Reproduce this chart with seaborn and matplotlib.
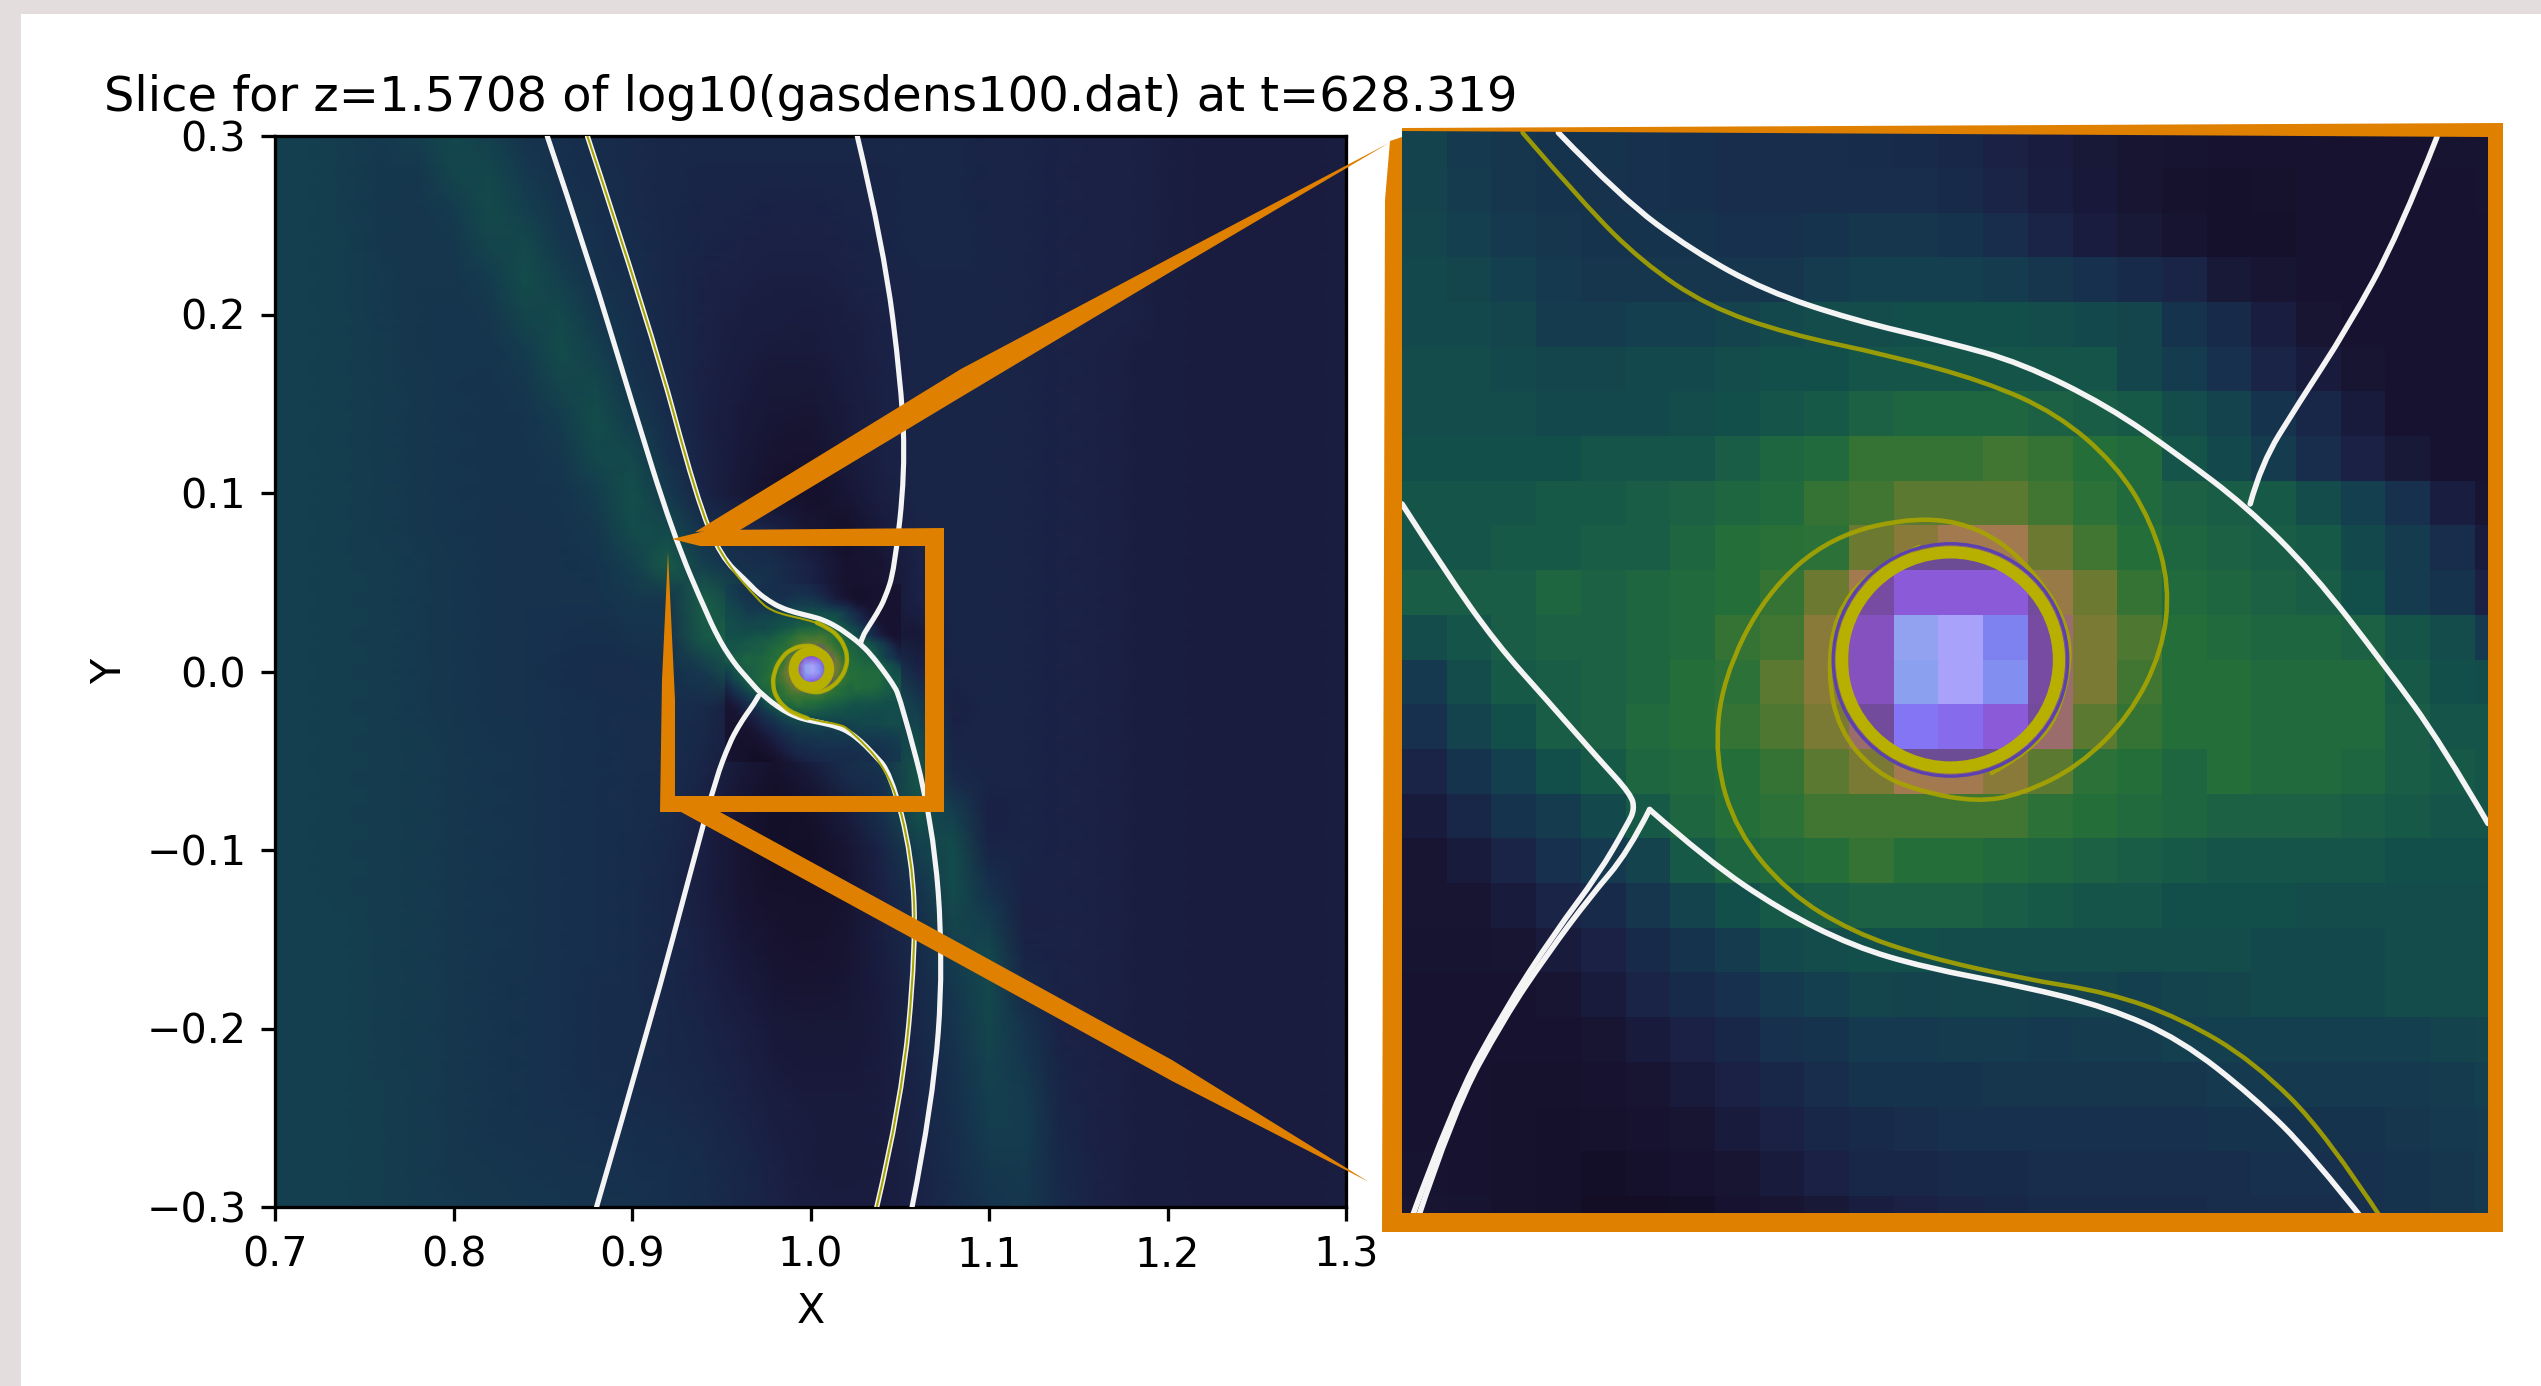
import numpy as np
import matplotlib
matplotlib.use("Agg")
import matplotlib.pyplot as plt
import seaborn as sns
from matplotlib.colors import LinearSegmentedColormap
from matplotlib.patches import Circle, PathPatch, Polygon, Rectangle
from matplotlib.path import Path
from matplotlib.transforms import Affine2D

W, H = 2541, 1386
DPI = 296

# log density (nodes every 0.02, y from 0.3 down to -0.3)
wide_field = [
    [38,38,36,34,38,44,38,30,28,26,24,22,22,22,22,22,22,22,22,22,20,20,19,18,18,17,15,15,15,15,16],
    [38,38,36,33,33,42,43,34,28,26,24,22,21,21,21,21,21,21,22,22,20,20,19,18,18,17,15,15,15,15,16],
    [38,38,36,33,32,36,45,38,30,27,24,22,20,20,19,19,20,21,22,22,20,20,19,18,18,17,15,15,15,15,16],
    [38,38,37,33,32,33,42,44,33,28,25,22,20,19,18,18,19,20,22,22,21,20,19,18,18,17,15,15,15,15,16],
    [38,38,37,34,32,32,36,46,38,29,26,22,19,18,17,17,18,20,21,21,21,20,19,18,18,16,15,15,15,15,16],
    [38,38,37,34,32,31,33,42,44,33,27,22,19,17,16,15,17,19,21,21,21,20,19,18,18,16,15,15,15,15,16],
    [38,38,37,35,32,31,31,36,46,38,28,23,19,16,14,14,16,19,21,21,21,20,19,18,17,16,15,15,15,15,16],
    [38,38,37,35,33,31,30,33,42,44,30,24,18,15,12,12,15,18,21,21,21,20,19,18,17,16,15,15,15,15,16],
    [38,38,37,35,33,31,30,31,36,47,36,25,18,14,11,10,14,18,21,21,21,20,19,18,17,16,15,15,15,15,16],
    [38,38,37,35,33,31,30,30,33,44,44,28,19,13,9,8,13,18,21,21,21,20,19,18,17,16,15,15,15,15,16],
    [38,38,37,35,33,31,30,30,31,37,48,34,20,12,7,6,11,17,21,21,21,20,19,18,17,16,15,15,15,15,16],
    [38,38,37,35,33,31,30,29,30,33,46,44,28,24,18,10,6,14,20,21,21,20,19,18,17,16,15,15,15,15,16],
    [38,38,37,36,34,32,30,29,29,31,38,52,38,28,26,18,8,10,19,21,21,20,19,18,17,16,15,15,15,15,16],
    [38,38,37,36,34,32,30,29,29,29,33,32,54,42,28,20,8,10,19,21,21,20,19,18,17,16,15,15,15,15,16],
    [38,38,37,36,34,32,30,29,28,27,29,30,52,56,54,48,28,14,12,21,21,20,19,18,17,16,15,15,15,15,16],
    [38,38,37,36,34,32,30,29,27,26,26,27,34,50,62,74,60,40,20,20,21,20,19,18,17,16,15,15,15,15,16],
    [38,38,37,36,34,32,30,29,28,27,26,27,24,16,52,60,58,50,36,18,21,20,19,18,17,16,15,15,15,15,16],
    [38,38,37,36,35,33,31,30,28,27,26,26,22,16,8,22,28,36,46,20,20,20,19,18,17,16,15,15,15,15,16],
    [38,38,37,36,35,33,31,30,28,27,26,25,20,12,6,12,24,28,50,24,20,20,19,18,17,16,15,15,15,15,16],
    [38,38,37,36,35,33,31,30,28,27,26,24,18,10,5,7,14,28,48,38,18,20,19,18,17,16,15,15,15,15,16],
    [38,38,37,36,35,33,31,30,28,27,25,23,17,10,5,5,10,20,38,46,20,20,19,18,17,16,15,15,15,15,16],
    [38,38,37,36,35,33,31,30,28,27,25,22,16,10,6,6,9,18,30,46,28,19,19,18,17,16,15,15,15,15,16],
    [38,38,38,36,35,33,31,30,28,27,25,22,17,11,8,7,9,17,26,42,36,18,19,18,17,16,15,15,15,15,16],
    [38,38,38,36,35,33,31,30,28,27,25,22,18,13,9,8,10,16,24,36,44,20,19,18,17,16,15,15,15,15,16],
    [38,38,38,36,35,33,31,29,28,26,25,22,19,15,11,10,11,15,23,32,44,24,19,18,17,16,15,15,15,15,16],
    [38,38,38,36,35,33,31,29,28,26,25,23,20,17,13,12,12,15,22,30,42,30,19,18,17,16,15,15,15,15,16],
    [38,38,38,36,35,33,31,29,28,26,25,23,21,18,14,13,13,15,21,28,40,33,20,18,17,16,15,15,15,15,16],
    [38,38,38,37,35,33,31,29,28,27,25,24,22,19,16,14,14,15,20,27,38,36,21,18,17,16,15,15,15,15,16],
    [38,38,38,37,35,33,31,30,29,28,27,26,24,21,17,15,14,15,20,26,36,36,22,18,17,16,15,15,15,15,16],
    [38,38,38,37,35,33,32,31,30,29,28,27,25,22,18,15,14,15,19,25,33,34,23,19,17,16,15,15,15,15,16],
    [38,38,38,37,35,34,33,32,31,30,29,27,25,22,19,16,15,15,19,24,30,33,24,19,17,16,15,15,15,15,16],
]

# the same quantity in the zoomed view, one value per simulation cell
zoom_field = [
    [40,34,32,30,30,28,27,26,26,26,25,24,22,18,15,12,10,9,8,8,8,8,8,9,9],
    [40,36,32,30,29,28,27,26,26,26,26,26,24,20,16,13,10,7,6,7,8,8,8,8,9],
    [42,38,34,32,30,30,30,28,28,30,32,32,30,26,20,15,12,9,6,6,8,8,8,8,8],
    [44,42,38,34,32,32,32,32,32,36,38,38,38,36,32,28,24,20,12,10,8,8,8,8,8],
    [44,44,42,36,36,38,38,40,44,46,46,48,48,48,46,44,42,30,24,16,10,8,8,8,8],
    [46,46,44,42,42,44,44,46,48,48,50,50,50,50,50,50,42,36,28,20,14,10,8,8,8],
    [46,46,46,44,44,44,46,48,50,52,56,58,58,58,56,54,52,46,40,30,22,14,8,8,8],
    [48,48,48,48,50,50,50,54,58,60,66,66,66,68,66,62,60,50,44,36,26,18,12,8,8],
    [50,50,50,52,52,54,56,58,60,66,68,72,72,72,68,64,60,56,54,52,46,38,28,16,10],
    [50,50,52,52,54,54,58,62,63,64,74,78,82,82,74,68,62,58,56,54,52,44,36,26,14],
    [54,54,54,58,56,58,60,62,66,74,82,84,84,84,80,74,66,60,58,56,54,48,36,30,18],
    [46,50,54,56,56,58,60,66,68,78,84,84,84,84,84,76,70,62,60,58,58,56,50,46,34],
    [34,46,52,54,56,58,62,64,72,78,84,84,84,84,84,76,68,62,62,60,60,60,52,48,46],
    [28,40,48,54,56,60,62,66,70,76,84,84,84,84,84,72,66,62,62,60,60,60,54,50,50],
    [20,30,38,48,52,58,60,62,66,72,76,82,82,78,72,64,62,58,62,60,60,58,54,52,50],
    [14,22,30,36,44,52,58,62,64,68,68,68,68,68,64,62,60,58,56,56,56,54,52,50,50],
    [10,14,20,28,34,40,52,58,60,62,66,62,62,60,58,56,54,52,50,50,50,50,48,48,48],
    [10,10,14,20,24,32,40,48,52,54,56,56,56,54,52,50,50,48,48,48,46,46,46,46,46],
    [9,9,10,14,18,24,30,36,44,46,48,48,46,46,46,46,46,46,46,44,44,44,46,46,46],
    [8,8,8,10,14,20,24,28,34,38,42,40,42,42,40,40,38,40,42,44,44,44,46,46,46],
    [8,8,8,8,10,14,18,22,28,30,34,34,36,36,34,36,36,38,38,38,38,38,38,40,42],
    [8,8,7,7,8,10,14,18,22,26,30,30,30,32,32,32,32,32,34,34,34,34,34,36,38],
    [8,8,7,6,7,8,10,14,18,22,24,26,28,28,28,28,28,28,30,30,30,30,32,34,36],
    [9,8,7,6,5,6,8,10,14,18,22,22,24,24,26,26,26,26,26,28,28,28,30,32,34],
    [10,9,7,6,4,4,5,8,10,12,16,18,20,22,24,24,24,24,26,26,26,28,30,32,34],
]

# cells inside the yellow ring (rows 9-14, columns 10-14)
core_field = [
    [np.nan,85,85,85,np.nan],
    [87,90,90,90,86],
    [89,98,100,95,87],
    [89,97,100,96,87],
    [86,93,92,90,86],
    [np.nan,85,85,85,np.nan],
]

x_ticks = [0.7, 0.8, 0.9, 1.0, 1.1, 1.2, 1.3]
y_ticks = [-0.3, -0.2, -0.1, 0.0, 0.1, 0.2, 0.3]
title = "Slice for z=1.5708 of log10(gasdens100.dat) at t=628.319"

# contour lines near the planet
w1_x = [.9644,.9701,.9768,.9835,.9915,1.0003,1.0070,1.0150,1.0217,1.0277,1.0338,1.0405,1.0458,1.0500]
w1_y = [.0504,.0444,.0394,.0357,.0330,.0309,.0290,.0250,.0203,.0157,.0096,.0009,-.0065,-.0138]
w2_x = [1.0453,1.0418,1.0371,1.0324,1.0291,1.0281]
w2_y = [.0500,.0410,.0323,.0250,.0196,.0159]
w3_x = [.9500,.9540,.9587,.9634,.9681,.9711,.9714,.9708,.9681,.9641,.9594,.9547,.9507]
w3_y = [.0159,.0096,.0029,-.0024,-.0078,-.0111,-.0125,-.0138,-.0185,-.0239,-.0312,-.0399,-.0510]
w3b_x = [.9728,.9708,.9674,.9634,.9594,.9547,.9513]
w3b_y = [-.0125,-.0165,-.0205,-.0259,-.0319,-.0406,-.0510]
w4_x = [.9728,.9781,.9848,.9915,.9982,1.0070,1.0150,1.0217,1.0284,1.0338,1.0388]
w4_y = [-.0125,-.0172,-.0218,-.0252,-.0272,-.0289,-.0309,-.0339,-.0392,-.0446,-.0510]
o1_x = [.9611,.9668,.9721,.9781,.9855,.9949,1.0036,1.0103,1.0157,1.0190,1.0207,1.0200,1.0170,1.0123,1.0070,1.0029,.9976,.9936,.9902,.9892,.9899,.9929,.9976]
o1_y = [.0504,.0437,.0384,.0343,.0317,.0297,.0273,.0243,.0196,.0143,.0083,.0022,-.0038,-.0085,-.0111,-.0118,-.0108,-.0091,-.0051,.0002,.0056,.0096,.0119]
o2_x = [1.0405,1.0351,1.0284,1.0217,1.0150,1.0070,.9982,.9915,.9855,.9808,.9788,.9795,.9835,.9895,.9976,1.0036,1.0083,1.0116,1.0113,1.0090,1.0043]
o2_y = [-.0510,-.0426,-.0359,-.0319,-.0295,-.0282,-.0262,-.0239,-.0202,-.0145,-.0078,-.0004,.0076,.0129,.0148,.0136,.0096,.0042,-.0011,-.0065,-.0091]

# the parts of those contours further out, wide view only
top_a_x = [.8525,.876,.8997,.923,.943]
top_a_y = [.3000,.230,.1515,.0768,.0296]
bottom_a_x = [1.045,1.057,1.059,1.051,1.037]
bottom_a_y = [-.0568,-.104,-.155,-.2415,-.3005]
top_b_x = [.875,.911,.9364,.9500]
top_b_y = [.3000,.1907,.0962,.0640]
bottom_b_x = [1.0686,1.0745,1.0686,1.0568]
bottom_b_y = [-.0844,-.163,-.2415,-.3005]
top_c_x = [1.0262,1.041,1.051,1.053,1.047]
top_c_y = [.3000,.238,.159,.112,.057]
bottom_d_x = [.880,.911,.935,.947]
bottom_d_y = [-.3005,-.194,-.104,-.060]

planet_x, planet_y = 1.0005, 0.0014
ring_r, halo_r, core_r = 0.0100, 0.0108, 0.0098

density_cmap = LinearSegmentedColormap.from_list(
    "density",
    [
        (0.00, "#0f0b1e"), (0.08, "#17122f"), (0.18, "#1a2145"), (0.28, "#16304d"),
        (0.38, "#143f4e"), (0.48, "#134f4a"), (0.55, "#1a5f45"), (0.62, "#246e3a"),
        (0.68, "#3e7632"), (0.74, "#6a7a30"), (0.78, "#8a7a3a"), (0.84, "#b07a5a"),
        (0.85, "#6a4c94"), (0.88, "#7e4aa8"), (0.90, "#8a58d6"), (0.93, "#8474f4"),
        (0.95, "#7c7cf0"), (0.97, "#88a0f0"), (0.98, "#92a2f0"), (1.00, "#a8a2fa"),
    ],
)
ORANGE = "#e08000"
WHITE = "#f4f4f4"
OLIVE = "#a8a400"
RING = "#b8b000"
HALO = "#5a40b0"


def px_axes(fig, left, top, right, bottom, **kw):
    return fig.add_axes([left / W, 1 - bottom / H, (right - left) / W, (bottom - top) / H], **kw)


def smooth_line(ax, xs, ys, color, lw, zorder=3, alpha=1):
    # quadratic segments through the midpoints, so the read points stay the only input
    pts = np.column_stack([xs, ys])
    verts = [pts[0]]
    codes = [Path.MOVETO]
    for i in range(1, len(pts) - 1):
        end = pts[-1] if i == len(pts) - 2 else (pts[i] + pts[i + 1]) / 2
        verts += [pts[i], end]
        codes += [Path.CURVE3, Path.CURVE3]
    ax.add_patch(PathPatch(Path(verts, codes), fill=False, ec=color, lw=lw, zorder=zorder,
                           alpha=alpha, capstyle="round"))


wide = np.array(wide_field, dtype=float)
zoom = np.array(zoom_field, dtype=float)
core = np.full(zoom.shape, np.nan)
core[9:15, 10:15] = core_field

fig = plt.figure(figsize=(W / DPI, H / DPI), facecolor="#e3dedd")
px = Affine2D().scale(1 / W, -1 / H).translate(0, 1) + fig.transFigure
fig.add_artist(Rectangle((21, 14), W, H, transform=px, fc="white", ec="none", zorder=-1))

# wide view: smooth field, with the finer cells laid over the middle
AX_L, AX_T, AX_R, AX_B = 275, 136, 1346, 1207
ax_wide = px_axes(fig, AX_L, AX_T, AX_R, AX_B)
sns.heatmap(wide, ax=ax_wide, cmap=density_cmap, vmin=0, vmax=100, cbar=False,
            xticklabels=False, yticklabels=False, shading="gouraud")
ax_wide.set_xlim(0, wide.shape[1] - 1)
ax_wide.set_ylim(wide.shape[0] - 1, 0)
ax_wide.set_axis_off()

ZL, ZT, ZR, ZB = 1402, 130, 2488, 1213
CELL = 44.7
cw = 0.1 / (ZR - ZL) * CELL
rh = 0.1 / (1213 - 137) * CELL
to_x = lambda v: AX_L + (v - 0.7) / 0.6 * (AX_R - AX_L)
to_y = lambda v: AX_T + (0.3 - v) / 0.6 * (AX_B - AX_T)
ax_mid = px_axes(fig, to_x(0.95 + 0.5 * cw), to_y(0.05 - 0.19 * rh),
                 to_x(0.95 + 24.5 * cw), to_y(0.05 - 24.19 * rh))
sns.heatmap(np.where(np.isnan(core), zoom, core), ax=ax_mid, cmap=density_cmap, vmin=0, vmax=100,
            cbar=False, xticklabels=False, yticklabels=False, shading="gouraud")
ax_mid.set_xlim(0, zoom.shape[1] - 1)
ax_mid.set_ylim(zoom.shape[0] - 1, 0)
ax_mid.set_axis_off()

ax = px_axes(fig, AX_L, AX_T, AX_R, AX_B, facecolor="none")
ax.set_xlim(0.7, 1.3)
ax.set_ylim(-0.3, 0.3)
ax.set_xticks(x_ticks)
ax.set_yticks(y_ticks)
ax.set_xlabel("X")
ax.set_ylabel("Y")
ax.set_title(title, fontsize=11.7)

a_x = top_a_x + w3_x[:6] + w4_x[:-1] + bottom_a_x
a_y = top_a_y + w3_y[:6] + w4_y[:-1] + bottom_a_y
b_x = top_b_x + w1_x + bottom_b_x
b_y = top_b_y + w1_y + bottom_b_y
smooth_line(ax, a_x, a_y, WHITE, 1.25)
smooth_line(ax, b_x, b_y, WHITE, 1.25)
smooth_line(ax, top_c_x + w2_x[1:], top_c_y + w2_y[1:], WHITE, 1.25)
smooth_line(ax, bottom_d_x + w3_x[11:6:-1], bottom_d_y + w3_y[11:6:-1], WHITE, 1.25)
smooth_line(ax, top_b_x + o1_x[2:], top_b_y + o1_y[2:], OLIVE, 0.5)
smooth_line(ax, bottom_a_x[::-1] + o2_x[3:], bottom_a_y[::-1] + o2_y[3:], OLIVE, 0.5)
smooth_line(ax, o1_x[6:], o1_y[6:], RING, 1.1, alpha=0.85)
smooth_line(ax, o2_x[6:], o2_y[6:], RING, 1.1, alpha=0.85)
ax.add_patch(Circle((planet_x, planet_y), ring_r, fill=False, ec=RING, lw=2.4, zorder=4))

# zoomed view: the simulation cells as they are
ax_cells = px_axes(fig, ZL, ZT, ZR, ZB)
sns.heatmap(zoom, ax=ax_cells, cmap=density_cmap, vmin=0, vmax=100, cbar=False,
            xticklabels=False, yticklabels=False)
sns.heatmap(core, ax=ax_cells, cmap=density_cmap, vmin=0, vmax=100, cbar=False,
            xticklabels=False, yticklabels=False)
ax_cells.set_xlim(0, (ZR - ZL) / CELL)
ax_cells.set_ylim(0.31 + (1213 - 137) / CELL, 0.31 - 7 / CELL)
ax_cells.set_axis_off()

ax_zoom = px_axes(fig, ZL, ZT, ZR, ZB, facecolor="none")
ax_zoom.set_xlim(0.95, 1.05)
ax_zoom.set_ylim(-0.05, 0.05 + 7 * 0.1 / 1076)
ax_zoom.set_axis_off()
ax_cells.collections[-1].set_clip_path(
    Circle((planet_x, planet_y), core_r + 0.0008, transform=ax_zoom.transData))

for xs, ys in [(w1_x, w1_y), (w2_x, w2_y), (w3_x, w3_y), (w3b_x, w3b_y), (w4_x, w4_y)]:
    smooth_line(ax_zoom, xs, ys, WHITE, 1.35)
smooth_line(ax_zoom, o1_x, o1_y, OLIVE, 1.1, alpha=0.9)
smooth_line(ax_zoom, o2_x, o2_y, OLIVE, 1.1, alpha=0.9)
ax_zoom.add_patch(Circle((planet_x, planet_y), halo_r, fill=False, ec=HALO, lw=0.8, zorder=4))
ax_zoom.add_patch(Circle((planet_x, planet_y), ring_r, fill=False, ec=RING, lw=3.0, zorder=5))

# hand-drawn orange callout, in picture pixels
callout = [
    [(672, 539), (709, 530), (944, 528), (944, 812), (660, 812), (662, 680), (668, 552),
     (675, 700), (675, 796), (925, 796), (925, 546), (700, 546)],
    [(695, 532), (961, 369), (1172, 257), (1389, 143), (1172, 271), (961, 397), (740, 530)],
    [(681, 812), (961, 965), (1172, 1081), (1369, 1182), (1172, 1060), (961, 944), (720, 812)],
    [(1390, 141), (1385, 200), (1382, 1232), (2503, 1232), (2503, 123), (1402, 128), (1402, 131),
     (2488, 137), (2488, 1213), (1402, 1213), (1402, 137)],
]
for shape in callout:
    fig.add_artist(Polygon(shape, closed=True, transform=px, fc=ORANGE, ec="none", zorder=5))

fig.savefig("out.png", dpi=DPI)
